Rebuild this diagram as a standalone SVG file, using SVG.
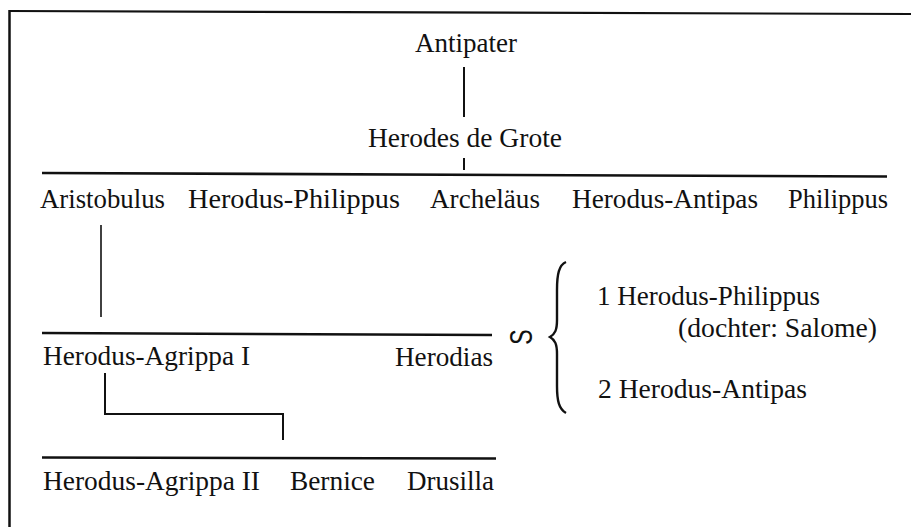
<svg xmlns="http://www.w3.org/2000/svg" width="911" height="527" viewBox="0 0 911 527">
<style>
text{font-family:"Liberation Serif","Times New Roman",serif;font-size:27px;fill:#111}
.c{text-anchor:middle}
.ln{stroke:#111;fill:none;stroke-linecap:butt}
</style>
<rect x="0" y="0" width="911" height="527" fill="#fff"/>
<g id="frame">
<line class="ln" x1="9" y1="11" x2="911" y2="14" stroke-width="2.2"/>
<line class="ln" x1="9.5" y1="10" x2="9.5" y2="527" stroke-width="2.5"/>
</g>
<g id="connectors">
<line class="ln" x1="464" y1="67" x2="464" y2="117" stroke-width="2"/>
<line class="ln" x1="464" y1="158" x2="464" y2="170" stroke-width="2"/>
<line class="ln" x1="42" y1="173" x2="887" y2="176.5" stroke-width="2.6"/>
<line class="ln" x1="101" y1="225" x2="101" y2="317" stroke-width="1.6"/>
<line class="ln" x1="42" y1="333" x2="492" y2="335" stroke-width="2.4"/>
<polyline class="ln" points="105,373 105,414 283,414 283,440" stroke-width="2"/>
<line class="ln" x1="42" y1="457.5" x2="496" y2="458.5" stroke-width="2.4"/>
<path class="ln" d="M566 262 C559 265 557 274 557 290 L557 320 C557 330 555 334 550 337 C555 340 557 344 557 354 L557 386 C557 401 559 409 566 413" stroke-width="2.4"/>
</g>
<g id="antipater"><text class="c" x="466" y="52" textLength="102" lengthAdjust="spacingAndGlyphs">Antipater</text></g>
<g id="herodes-de-grote"><text class="c" x="465" y="147" textLength="194" lengthAdjust="spacingAndGlyphs">Herodes de Grote</text></g>
<g id="aristobulus"><text x="40" y="208" textLength="125" lengthAdjust="spacingAndGlyphs">Aristobulus</text></g>
<g id="herodus-philippus"><text x="188" y="208" textLength="212" lengthAdjust="spacingAndGlyphs">Herodus-Philippus</text></g>
<g id="archelaus"><text x="430" y="208" textLength="110" lengthAdjust="spacingAndGlyphs">Archeläus</text></g>
<g id="herodus-antipas"><text x="572" y="208" textLength="186" lengthAdjust="spacingAndGlyphs">Herodus-Antipas</text></g>
<g id="philippus"><text x="788" y="208" textLength="100" lengthAdjust="spacingAndGlyphs">Philippus</text></g>
<g id="herodus-agrippa-1"><text x="43" y="365" textLength="207" lengthAdjust="spacingAndGlyphs">Herodus-Agrippa I</text></g>
<g id="herodias"><text x="395" y="366" textLength="98" lengthAdjust="spacingAndGlyphs">Herodias</text></g>
<g id="herodus-agrippa-2"><text x="43" y="490" textLength="217" lengthAdjust="spacingAndGlyphs">Herodus-Agrippa II</text></g>
<g id="bernice"><text x="290" y="490" textLength="85" lengthAdjust="spacingAndGlyphs">Bernice</text></g>
<g id="drusilla"><text x="407" y="490" textLength="87" lengthAdjust="spacingAndGlyphs">Drusilla</text></g>
<g id="marriage-symbol"><text style="font-family:'Liberation Sans',Arial,sans-serif;font-size:32px" text-anchor="middle" x="0" y="11.5" transform="translate(520,337) rotate(-90) scale(0.72,1)">S</text></g>
<g id="husbands">
<text x="597" y="305" textLength="223" lengthAdjust="spacingAndGlyphs">1 Herodus-Philippus</text>
<text x="678" y="337" textLength="199" lengthAdjust="spacingAndGlyphs">(dochter: Salome)</text>
<text x="598" y="398" textLength="209" lengthAdjust="spacingAndGlyphs">2 Herodus-Antipas</text>
</g>
</svg>
